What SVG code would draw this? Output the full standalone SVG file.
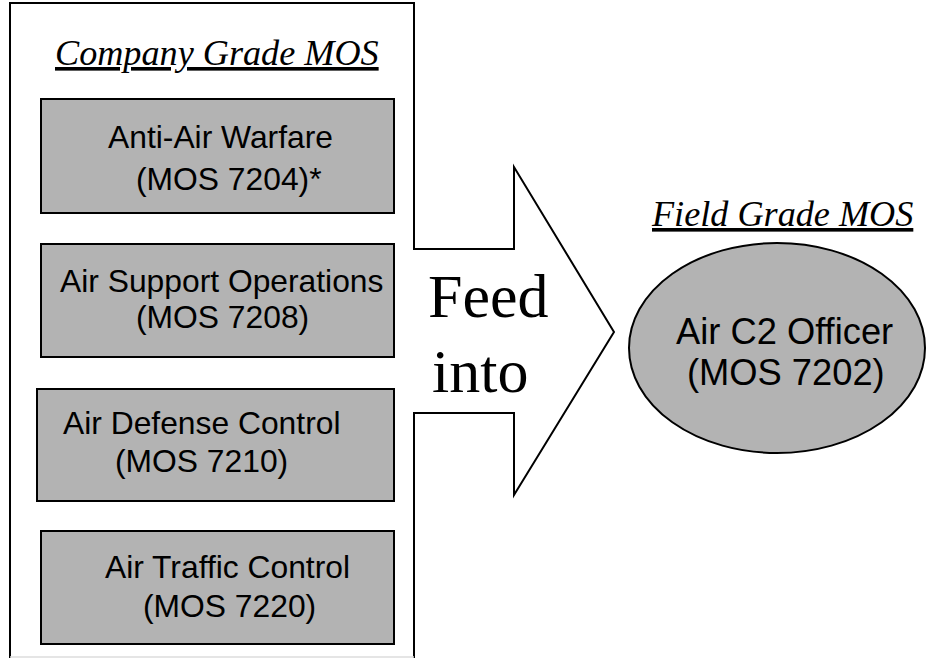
<svg xmlns="http://www.w3.org/2000/svg" width="927" height="658" viewBox="0 0 927 658">
<style>
.box{fill:#b3b3b3;stroke:#000;stroke-width:2}
.outline{fill:#fff;stroke:#000;stroke-width:2}
.lbl{font-family:"Liberation Sans",Arial,sans-serif;font-size:31.8px;fill:#000}
.big{font-family:"Liberation Sans",Arial,sans-serif;font-size:36.3px;fill:#000}
.title{font-family:"Liberation Serif","Times New Roman",serif;font-style:italic;font-size:36.2px;fill:#000;text-decoration:underline}
.feed{font-family:"Liberation Serif","Times New Roman",serif;font-size:62px;fill:#000}
</style>
<rect width="927" height="658" fill="#fff"/>
<g id="container">
<path class="outline" d="M10,3 H414 V249 H514 V167 L614,332 L514,495 V413 H414 V660 H10 Z"/>
<line x1="10" y1="657" x2="414" y2="657" stroke="#ddd" stroke-width="1.5"/>
<text class="title" x="55" y="65">Company Grade MOS</text>
</g>
<g id="feed-label">
<text class="feed" x="428" y="317">Feed</text>
<text class="feed" x="432" y="392">into</text>
</g>
<g id="n7204">
<rect class="box" x="41" y="99" width="353" height="114"/>
<text class="lbl" x="108" y="148">Anti-Air Warfare</text>
<text class="lbl" x="136" y="190">(MOS 7204)*</text>
</g>
<g id="n7208">
<rect class="box" x="41" y="244" width="353" height="113"/>
<text class="lbl" x="60" y="292">Air Support Operations</text>
<text class="lbl" x="136" y="328">(MOS 7208)</text>
</g>
<g id="n7210">
<rect class="box" x="37" y="389" width="357" height="112"/>
<text class="lbl" x="63" y="434">Air Defense Control</text>
<text class="lbl" x="115" y="472">(MOS 7210)</text>
</g>
<g id="n7220">
<rect class="box" x="41" y="531" width="353" height="113"/>
<text class="lbl" x="105" y="578">Air Traffic Control</text>
<text class="lbl" x="143" y="617">(MOS 7220)</text>
</g>
<g id="field">
<text class="title" x="652" y="226">Field Grade MOS</text>
</g>
<g id="n7202">
<ellipse class="box" cx="777" cy="348" rx="148" ry="105"/>
<text class="big" x="676" y="344">Air C2 Officer</text>
<text class="big" x="687" y="385">(MOS 7202)</text>
</g>
<g id="connectors"></g>
</svg>
